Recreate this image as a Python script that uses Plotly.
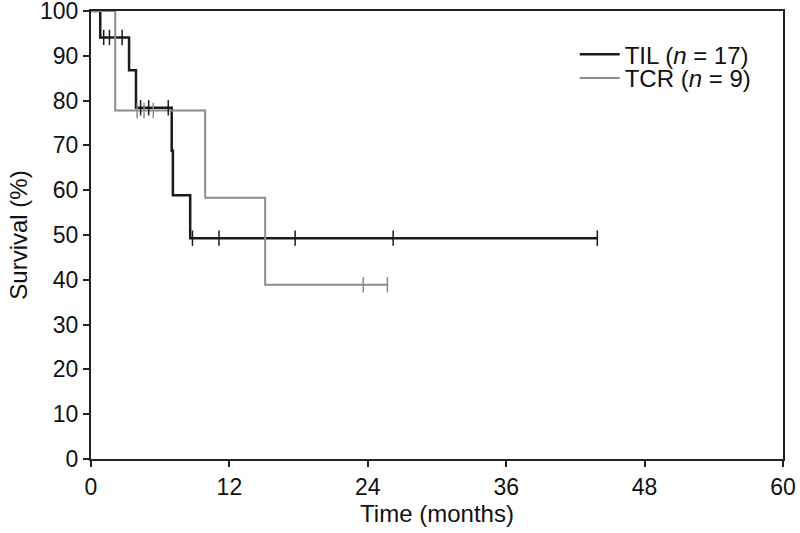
import plotly.graph_objects as go

# TIL (n = 17): step times (months) and survival (%)
til_times = [0, 0.8, 3.3, 3.9, 7.0, 7.1, 8.6, 43.9]
til_surv = [100, 94.1, 86.8, 78.4, 68.8, 58.9, 49.3, 49.3]
til_censor = [1.1, 1.6, 2.7, 4.3, 5.0, 6.7, 8.8, 11.1, 17.7, 26.2, 43.9]

# TCR (n = 9)
tcr_times = [0, 2.1, 9.9, 15.1, 25.7]
tcr_surv = [100, 77.8, 58.3, 38.9, 38.9]
tcr_censor = [4.0, 4.6, 5.4, 23.6, 25.7]

x_ticks = [0, 12, 24, 36, 48, 60]
y_ticks = list(range(0, 101, 10))


def level_at(t, times, surv):
    val = surv[0]
    for ti, si in zip(times, surv):
        if ti <= t:
            val = si
    return val


til_color = "#1a1a1a"
tcr_color = "#8c8c8c"

fig = go.Figure()
fig.add_trace(go.Scatter(x=til_times, y=til_surv, mode="lines", line_shape="hv",
                         line=dict(color=til_color, width=2.5),
                         name="TIL (<i>n</i> = 17)", legend="legend"))
fig.add_trace(go.Scatter(x=tcr_times, y=tcr_surv, mode="lines", line_shape="hv",
                         line=dict(color=tcr_color, width=2),
                         name="TCR (<i>n</i> = 9)", legend="legend2"))
fig.add_trace(go.Scatter(x=til_censor, y=[level_at(t, til_times, til_surv) for t in til_censor],
                         mode="markers", showlegend=False,
                         marker=dict(symbol="line-ns-open", size=11, color=til_color,
                                     line=dict(color=til_color, width=1.5))))
fig.add_trace(go.Scatter(x=tcr_censor, y=[level_at(t, tcr_times, tcr_surv) for t in tcr_censor],
                         mode="markers", showlegend=False,
                         marker=dict(symbol="line-ns-open", size=11, color=tcr_color,
                                     line=dict(color=tcr_color, width=1.5))))

font_family = "Liberation Sans, Arial, sans-serif"
legend_common = dict(xanchor="left", yanchor="top", bgcolor="rgba(0,0,0,0)",
                     font=dict(family=font_family, size=24, color="#111"),
                     itemwidth=40)
fig.update_layout(
    width=800, height=533,
    margin=dict(l=91, r=17, t=11, b=74, autoexpand=False),
    paper_bgcolor="white", plot_bgcolor="white",
    font=dict(family=font_family, size=23, color="#111"),
    showlegend=True,
    legend=dict(x=0.699, y=0.953, **legend_common),
    legend2=dict(x=0.699, y=0.9, **legend_common),
    xaxis=dict(range=[0, 60], tickvals=x_ticks, ticktext=[str(v) for v in x_ticks],
               showgrid=False, zeroline=False, showline=True, mirror=True,
               linecolor="#222", linewidth=2, ticks="outside", ticklen=6,
               tickcolor="#222", tickwidth=1.5, automargin=False,
               ticklabeloverflow="allow",
               title=dict(text="Time (months)", standoff=0, font=dict(size=24))),
    yaxis=dict(range=[0, 100], tickvals=y_ticks, ticktext=[str(v) for v in y_ticks],
               showgrid=False, zeroline=False, showline=True, mirror=True,
               linecolor="#222", linewidth=2, ticks="outside", ticklen=6,
               tickcolor="#222", tickwidth=1.5, automargin=False,
               ticklabeloverflow="allow",
               title=dict(text="Survival (%)", standoff=6, font=dict(size=24))),
)

fig.write_html("out.html",
               config={"displayModeBar": False},
               post_script="document.body.style.margin='0';document.body.style.overflow='hidden';")
